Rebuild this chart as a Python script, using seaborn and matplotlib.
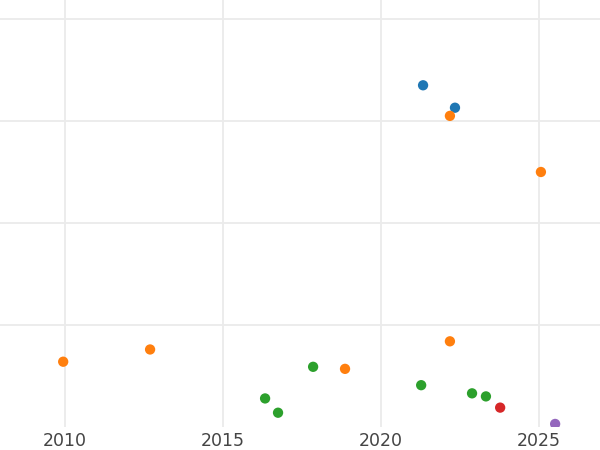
import matplotlib
matplotlib.use("Agg")
import matplotlib.pyplot as plt
import pandas as pd
import seaborn as sns

# values
years = [2021.33, 2022.34, 2022.18, 2025.06, 2009.94, 2012.69, 2018.86, 2022.18,
         2016.33, 2016.74, 2017.85, 2021.27, 2022.88, 2023.32, 2023.77, 2025.51]
values = [3.35, 3.13, 3.05, 2.50, 0.64, 0.76, 0.57, 0.84,
          0.28, 0.14, 0.59, 0.41, 0.33, 0.30, 0.19, 0.03]
groups = ["A", "A", "B", "B", "B", "B", "B", "B",
          "C", "C", "C", "C", "C", "C", "D", "E"]
group_order = ["A", "B", "C", "D", "E"]
group_colors = ["#1f77b4", "#ff7f0e", "#2ca02c", "#d62728", "#9467bd"]

df = pd.DataFrame({"year": years, "value": values, "group": groups})

sns.set_style("whitegrid")
plt.rcParams["font.family"] = ["DejaVu Sans"]

fig = plt.figure(figsize=(6, 4.5), dpi=100)
ax = fig.add_axes([0, 23 / 450, 1, 427 / 450])

sns.scatterplot(data=df, x="year", y="value", hue="group", hue_order=group_order,
                palette=group_colors, s=55, linewidth=0, legend=False, ax=ax)

ax.set_xlim(2007.94, 2026.93)
ax.set_ylim(0, 4.186)
ax.set_xticks([2010, 2015, 2020, 2025])
ax.set_yticks([1, 2, 3, 4])
ax.set_yticklabels([])
ax.tick_params(axis="both", length=0)
ax.tick_params(axis="x", labelsize=12.5, labelcolor="#444444", pad=3.5)
ax.grid(True, color="#ebebeb", linewidth=1.3)
ax.set_xlabel("")
ax.set_ylabel("")
for spine in ax.spines.values():
    spine.set_visible(False)

fig.savefig("out.png", dpi=100)
